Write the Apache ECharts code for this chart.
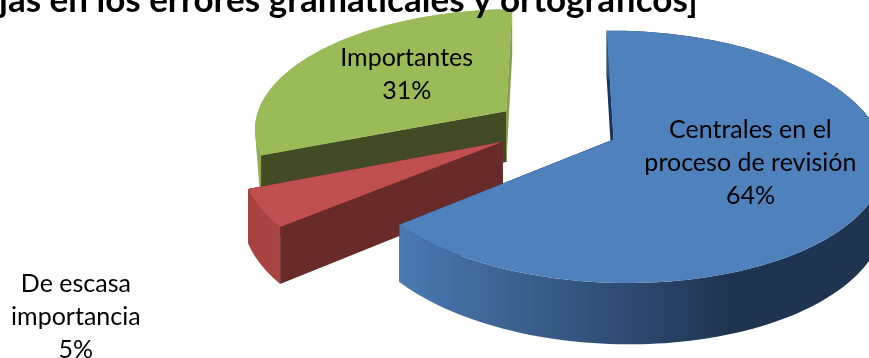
<!DOCTYPE html>
<html>
<head>
<meta charset="utf-8">
<style>html,body{margin:0;padding:0;background:#fff;overflow:hidden}#c{width:869px;height:358px}</style>
<script src="https://cdn.jsdelivr.net/npm/echarts@6/dist/echarts.min.js"></script>
</head>
<body>
<div id="c"></div>
<script>
// Data
var categories = ['Centrales en el\nproceso de revisión', 'De escasa\nimportancia', 'Importantes'];
var shareValues = [64, 5, 31];
var titleText = 'jas en los errores gramaticales y ortográficos]';

// Styling per slice
var topColors = ['#4f81bd', '#c0504d', '#9bbb59'];
var startWallColors = ['#17375e', '#692a2a', '#434b24'];
var endWallColors = ['#17375e', '#692a2a', '#84a04c'];
var rimColors = [
  [[0, '#4a79b3'], [0.2, '#3e6594'], [0.45, '#2f4d74'], [0.68, '#1f3450'], [1, '#1f3450']],
  [[0, '#a64341'], [1, '#a84442']],
  [[0, '#8faa52'], [1, '#8faa52']]
];
var paintOrder = [2, 1, 0];      // far slice first
var rimTapered = [false, false, true];
var labelRadius = [0.53, 1.825, 0.54];
var labelTurn = [-5, -11, 4];

// 3D pie view
var view = {cx: 556.5, cy: 127, rx: 258, ry: 120, persp: 0.135, skew: -0.015, depth: 52, explode: 0.24};

var total = shareValues.reduce(function (a, b) { return a + b; }, 0);
var starts = [], acc = 0;
shareValues.forEach(function (v) { starts.push(acc / total * 360); acc += v; });

function project(deg, r, bisDeg, z) {
  var a = deg * Math.PI / 180, b = bisDeg * Math.PI / 180;
  var wx = r * Math.sin(a) + view.explode * Math.sin(b);
  var wy = r * Math.cos(a) + view.explode * Math.cos(b);
  var s = 1 / (1 + view.persp * wy + view.skew * wx);
  return [view.cx + view.rx * wx * s, view.cy - view.ry * wy * s + view.depth * z * s];
}

function renderSlice(params, api) {
  var i = api.value(0);
  var value = api.value(1);
  var a0 = starts[i], sweep = value / total * 360, bis = a0 + sweep / 2;
  var arcTop = [], arcBot = [];
  var n = Math.max(6, Math.ceil(sweep / 1.5));
  for (var k = 0; k <= n; k++) {
    var a = a0 + sweep * k / n;
    arcTop.push(project(a, 1, bis, 0));
    arcBot.push(project(a, 1, bis, 1));
  }
  var A = project(0, 0, bis, 0), A2 = project(0, 0, bis, 1);
  var base = paintOrder.indexOf(i) * 10 + 1;
  var startT = arcTop[0], startB = arcBot[0], endT = arcTop[n], endB = arcBot[n];
  var rim;
  if (rimTapered[i]) {
    var left = 0;
    arcTop.forEach(function (p, j) { if (p[0] < arcTop[left][0]) left = j; });
    rim = arcTop.slice(left).concat([startB]);
  } else {
    rim = arcTop.concat(arcBot.slice().reverse());
  }
  var topFace = [A].concat(arcTop);
  var lp = project(bis + labelTurn[i], labelRadius[i], bis, 0);
  var children = [
    {type: 'polygon', z2: base, shape: {points: [startT, A, A2, startB]}, style: {fill: startWallColors[i]}},
    {type: 'polygon', z2: base, shape: {points: [startT, A, A2]}, style: {fill: startWallColors[i]}},
    {type: 'polygon', z2: base + 1, shape: {points: [endT, A, A2, endB]}, style: {fill: endWallColors[i]}},
    {type: 'polygon', z2: base + 1, shape: {points: [endT, A, A2]}, style: {fill: endWallColors[i]}},
    {type: 'polygon', z2: rimTapered[i] ? base - 1 : base + 2, shape: {points: rim}, style: {
      fill: {type: 'linear', x: 0, y: 0, x2: 1, y2: 0, colorStops: rimColors[i].map(function (c) { return {offset: c[0], color: c[1]}; })}
    }},
    {type: 'polygon', z2: base + 3, shape: {points: topFace}, style: {fill: topColors[i]}},
    {type: 'text', z2: 100, style: {
      text: categories[i] + '\n' + value + '%', x: lp[0], y: lp[1],
      align: 'center', verticalAlign: 'middle',
      fontFamily: 'Lato', fontSize: 25, lineHeight: 33, fill: '#000'
    }}
  ];
  return {type: 'group', children: children};
}

var chart = echarts.init(document.getElementById('c'), null, {renderer: 'canvas'});
chart.setOption({
  animation: false,
  backgroundColor: '#fff',
  title: {
    text: titleText, left: -1, top: -17, z: 20, padding: 0,
    textStyle: {fontFamily: 'Lato', fontWeight: 'bold', fontSize: 35, color: '#000'}
  },
  series: [{
    type: 'custom',
    coordinateSystem: 'none',
    silent: true,
    renderItem: renderSlice,
    data: shareValues.map(function (v, i) { return [i, v]; })
  }]
});
</script>
</body>
</html>
